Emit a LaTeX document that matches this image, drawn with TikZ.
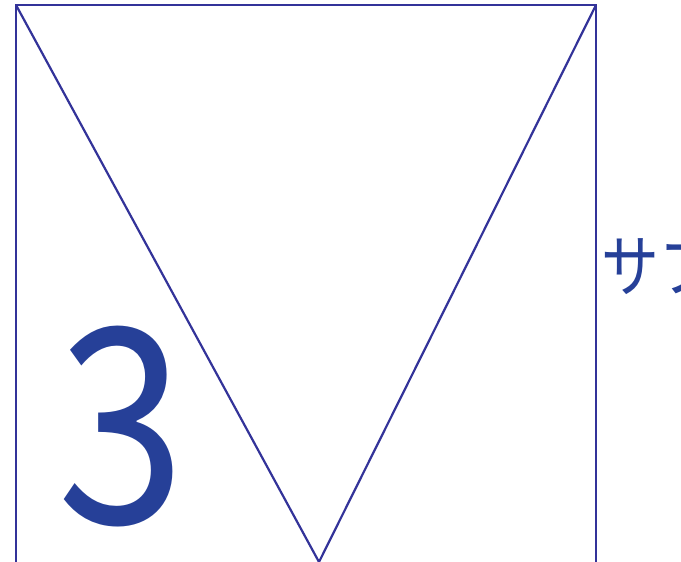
\documentclass[tikz,border=0pt]{standalone}
\usepackage{fontspec}
\usepackage{tikz}
\usetikzlibrary{positioning, calc}
\newfontfamily\jpfont[FakeStretch=0.85]{Noto Sans CJK JP}
\definecolor{myblue}{RGB}{51,51,153}
\definecolor{mynavy}{RGB}{38,64,152}
\tikzset{
  frame/.style={line width=2.2pt, color=myblue, line join=miter},
  bignum/.style={inner sep=0pt, text=mynavy, font=\jpfont\fontsize{272}{272}\selectfont},
  sidelabel/.style={inner sep=0pt, text=mynavy, font=\jpfont\fontsize{68}{68}\selectfont}
}

\begin{document}
\begin{tikzpicture}[x=1pt, y=1pt]
  \useasboundingbox (0,0) rectangle (681,562);
  \clip (0,0) rectangle (681,562);

  % corners of the frame and tip of the V
  \coordinate (tl) at (16,557);
  \coordinate (tr) at (596,557);
  \coordinate (bl) at (16,-10);
  \coordinate (br) at (596,-10);
  \coordinate (tip) at (319,0);

  % frame
  \draw[frame] (bl) -- (tl) -- (tr) -- (br);
  % V
  \draw[frame] (tl) -- (tip) -- (tr);

  % labels
  \node[bignum, anchor=base west] (num) at (57,38) {3};
  \node[sidelabel, anchor=west] (sub) at (601,298) {サブ};
\end{tikzpicture}
\end{document}
